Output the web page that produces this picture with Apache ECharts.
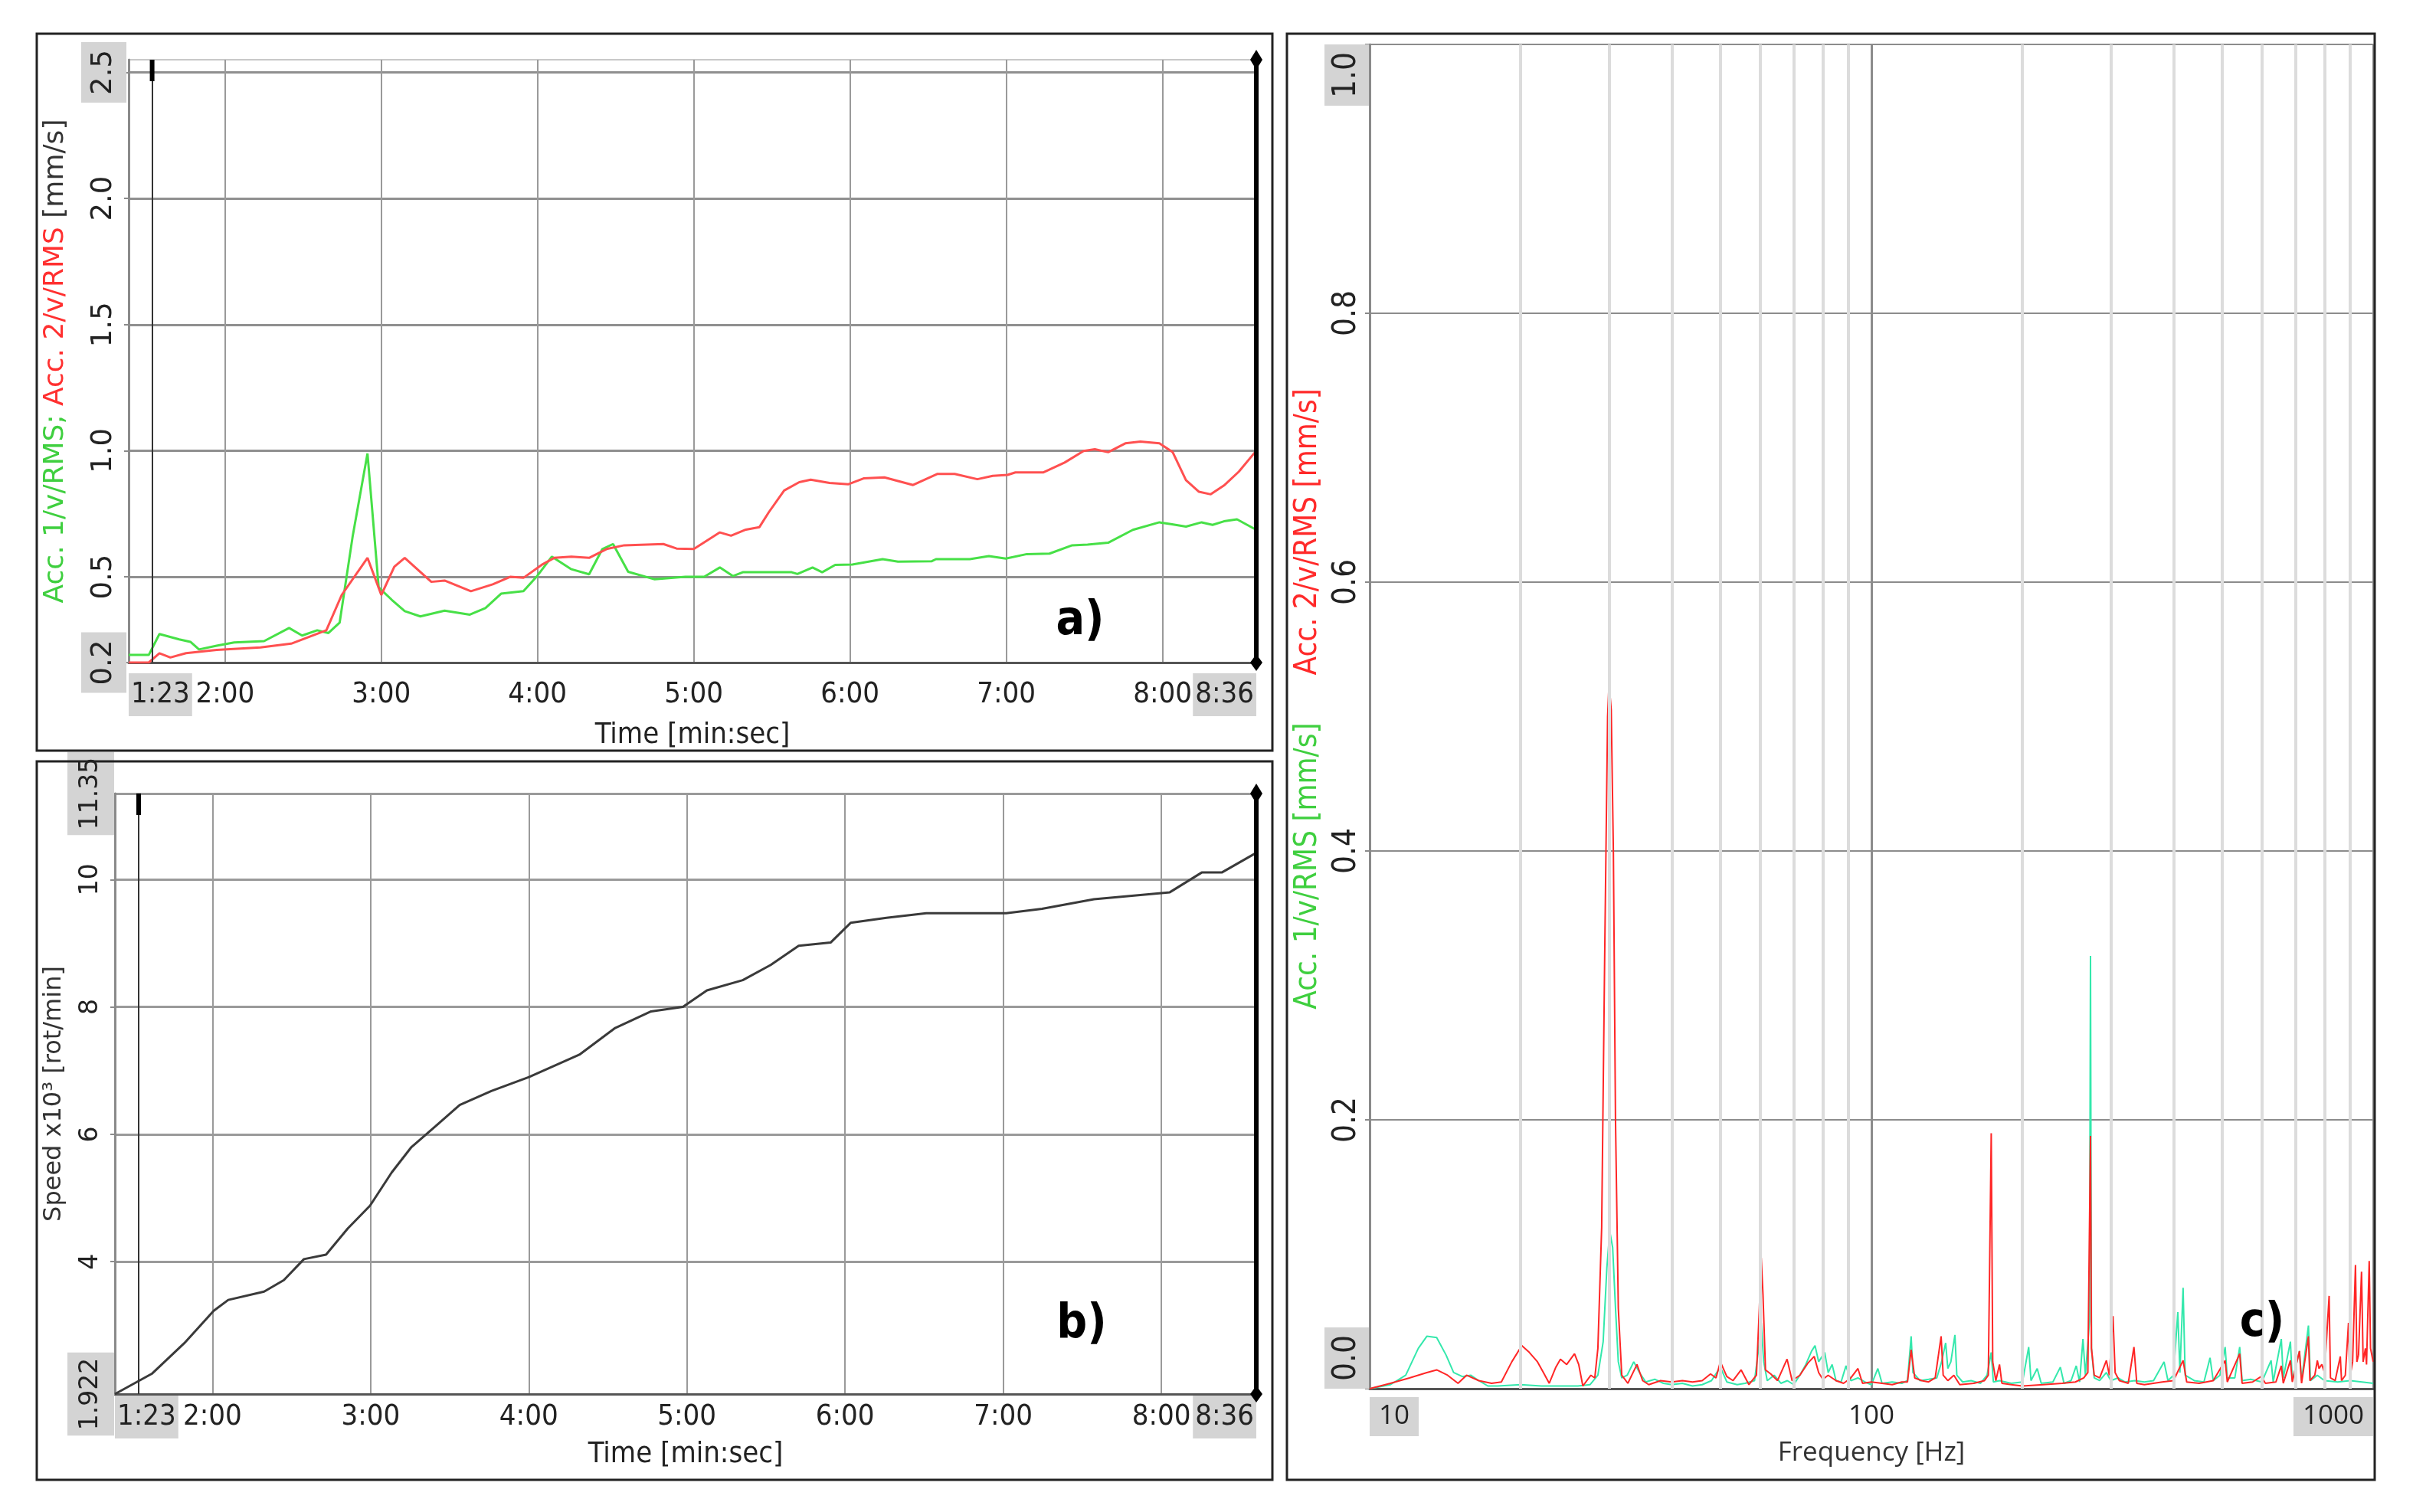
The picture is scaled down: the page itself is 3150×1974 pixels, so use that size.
<!DOCTYPE html>
<html>
<head>
<meta charset="utf-8">
<title>Acc RMS / Speed / Spectrum</title>
<script src="https://cdn.jsdelivr.net/npm/echarts@6/dist/echarts.min.js"></script>
<style>
  html, body { margin: 0; padding: 0; background: #fff; }
  #chart { width: 3150px; height: 1974px; }
</style>
</head>
<body>
<div id="chart"></div>
<script>
// time axis (seconds) for panels a) and b)
var tMin = 83, tMax = 516;
var timeTicks = [83, 120, 180, 240, 300, 360, 420, 480, 516];
var cursorTimes = [92, 516];

// a) RMS velocity [mm/s] vs time [s]
var accMin = 0.16, accMax = 2.55;
var accTicks = [0.16, 0.5, 1.0, 1.5, 2.0, 2.5];
var acc1Rms = [[83,0.19],[90.7,0.19],[94.8,0.273],[102.4,0.252],[106.7,0.242],[110,0.212],[116.8,0.227],[123.5,0.24],[135,0.245],[144.6,0.297],[149.6,0.267],[155.4,0.288],[159.7,0.277],[164,0.318],[169,0.66],[174.7,0.989],[179,0.458],[184,0.409],[189,0.364],[195,0.343],[204.3,0.366],[214,0.35],[220,0.376],[226,0.433],[234.6,0.443],[239.6,0.5],[245.5,0.58],[253,0.53],[259.8,0.51],[264.9,0.61],[269,0.63],[274.8,0.52],[285,0.49],[296.8,0.5],[304,0.5],[310,0.537],[315,0.503],[318.8,0.518],[337.6,0.518],[339.8,0.511],[345.6,0.537],[349.3,0.518],[354.3,0.547],[360.9,0.549],[372.5,0.57],[378.4,0.56],[391.4,0.562],[393,0.57],[406,0.57],[413.3,0.582],[419.8,0.572],[427.9,0.59],[436.6,0.592],[445.3,0.625],[451.2,0.628],[459.1,0.635],[468.6,0.686],[478.8,0.716],[483.2,0.709],[489,0.699],[495,0.716],[499.2,0.706],[503.6,0.72],[508.6,0.728],[516,0.686]];
var acc2Rms = [[83,0.16],[90.7,0.16],[94.8,0.197],[99,0.18],[105,0.197],[116.8,0.21],[133.6,0.22],[145.4,0.235],[158.9,0.288],[164.8,0.428],[174.7,0.575],[180,0.428],[185,0.54],[189,0.575],[199.2,0.48],[204.3,0.485],[214.4,0.443],[222.8,0.47],[229.5,0.5],[234.6,0.496],[242,0.55],[246.4,0.575],[253,0.58],[259.8,0.575],[266.5,0.61],[273.3,0.625],[288.3,0.63],[293.4,0.612],[300,0.61],[310,0.676],[314.3,0.663],[320,0.687],[325.2,0.697],[328.8,0.756],[334.7,0.842],[340.5,0.875],[344.9,0.885],[352.1,0.872],[359.4,0.867],[365.2,0.89],[373.2,0.894],[384.2,0.864],[393.6,0.908],[400.2,0.908],[408.9,0.887],[414.8,0.9],[420.5,0.904],[423.5,0.914],[434.3,0.914],[442.4,0.953],[449.7,0.999],[454,1.006],[459.1,0.994],[465.7,1.029],[471.5,1.036],[478.8,1.029],[483.9,0.994],[489,0.883],[494,0.837],[498.5,0.827],[503.6,0.862],[509.3,0.917],[516,1.0]];

// b) speed x10^3 [rot/min] vs time [s]
var speedMin = 1.922, speedMax = 11.35;
var speedTicks = [1.922, 4, 6, 8, 10, 11.35];
var speed = [[83,1.922],[97,2.24],[109.3,2.72],[120.5,3.23],[126,3.4],[139.6,3.53],[147.1,3.71],[154.7,4.04],[163.1,4.11],[171.3,4.52],[179.8,4.88],[188,5.4],[195.5,5.8],[204.7,6.13],[213.8,6.46],[225.8,6.68],[240.1,6.9],[259.2,7.25],[272.8,7.67],[286.4,7.93],[298.5,8.0],[307.6,8.26],[321.2,8.42],[331.8,8.66],[342.4,8.96],[354.5,9.01],[362.1,9.32],[375.7,9.4],[390.8,9.47],[421.1,9.47],[434.7,9.54],[454.4,9.69],[483.2,9.8],[495.3,10.11],[502.9,10.11],[516,10.42]];

// c) spectrum [mm/s] vs frequency [Hz]
var freqMin = 10, freqMax = 1000;
var minorFreqs = [20, 30, 40, 50, 60, 70, 80, 90, 200, 300, 400, 500, 600, 700, 800, 900];
var acc1Spec = [[10,0],[11,0.003],[11.8,0.01],[12.5,0.03],[13,0.039],[13.6,0.038],[14.2,0.025],[14.7,0.012],[15.3,0.009],[15.9,0.01],[16.5,0.006],[17.2,0.002],[18,0.002],[20,0.003],[22,0.002],[24,0.002],[26,0.002],[27.5,0.003],[28.5,0.01],[29.2,0.035],[29.7,0.09],[30.1,0.117],[30.5,0.105],[30.9,0.06],[31.3,0.02],[31.8,0.008],[32.6,0.01],[33.6,0.02],[34.5,0.012],[35.5,0.005],[37,0.007],[38.5,0.004],[40,0.003],[42,0.004],[44,0.002],[46,0.003],[48,0.006],[50,0.016],[51.5,0.005],[54,0.003],[56,0.004],[58.5,0.006],[59.6,0.03],[60.3,0.049],[61,0.02],[62,0.006],[64,0.01],[66,0.004],[68,0.006],[70,0.003],[72,0.01],[74,0.018],[76,0.028],[77.2,0.032],[78.5,0.02],[80.7,0.027],[82,0.012],[83.5,0.018],[85,0.006],[87,0.005],[89,0.017],[91,0.006],[94,0.008],[97,0.005],[100,0.003],[103,0.015],[105,0.004],[110,0.005],[115,0.004],[118,0.006],[120,0.039],[121,0.012],[125,0.006],[130,0.007],[135,0.008],[138,0.02],[140.6,0.034],[142,0.015],[144,0.02],[146.7,0.04],[148,0.01],[152,0.005],[158,0.006],[165,0.004],[170,0.01],[173.3,0.027],[175,0.005],[180,0.006],[190,0.004],[200,0.005],[205.8,0.031],[208,0.006],[214,0.015],[218,0.004],[230,0.005],[238,0.016],[242,0.004],[250,0.006],[256,0.017],[260,0.005],[264,0.037],[267,0.01],[272,0.05],[273.3,0.322],[274.5,0.03],[278,0.008],[285,0.006],[294,0.012],[300,0.006],[310,0.008],[320,0.005],[335,0.006],[350,0.005],[365,0.006],[383,0.02],[390,0.006],[400,0.01],[408,0.057],[412,0.012],[418,0.075],[422,0.01],[440,0.006],[460,0.005],[473,0.023],[480,0.006],[495,0.01],[507,0.031],[512,0.008],[530,0.008],[542,0.031],[548,0.006],[570,0.007],[600,0.005],[626,0.021],[632,0.005],[656,0.037],[662,0.008],[684,0.035],[690,0.006],[713,0.028],[720,0.006],[743,0.047],[750,0.006],[774,0.01],[800,0.006],[850,0.005],[900,0.006],[950,0.005],[1000,0.004]];
var acc2Spec = [[10,0],[11,0.004],[12,0.008],[13,0.012],[13.6,0.014],[14.3,0.01],[15,0.004],[15.6,0.01],[16.5,0.006],[17.5,0.004],[18.3,0.005],[19.2,0.02],[20.1,0.032],[20.8,0.027],[21.6,0.02],[22.2,0.012],[22.8,0.004],[23.5,0.016],[24,0.022],[24.7,0.018],[25.6,0.026],[26.1,0.018],[26.6,0.002],[27.6,0.01],[28.1,0.008],[28.5,0.03],[29,0.12],[29.4,0.32],[29.8,0.5],[30,0.525],[30.3,0.505],[30.6,0.4],[30.9,0.2],[31.3,0.06],[31.8,0.01],[32.7,0.004],[34.1,0.018],[35,0.006],[36,0.003],[38,0.006],[40,0.005],[42,0.006],[44,0.005],[46,0.006],[47.8,0.011],[49,0.008],[50,0.02],[51.5,0.009],[53,0.006],[55,0.014],[57,0.003],[59,0.01],[59.8,0.06],[60.3,0.0976],[60.8,0.07],[61.5,0.014],[63,0.011],[65,0.006],[67.9,0.022],[69.5,0.006],[72,0.01],[74.7,0.019],[76.9,0.024],[78.5,0.012],[80,0.007],[82,0.01],[85,0.006],[88,0.004],[91,0.008],[94,0.015],[96,0.004],[100,0.005],[105,0.004],[110,0.003],[115,0.005],[118,0.005],[120,0.029],[122,0.008],[126,0.006],[130,0.005],[134,0.008],[137.7,0.039],[139,0.01],[142,0.006],[146,0.01],[150,0.003],[160,0.004],[168,0.006],[171,0.01],[173.3,0.19],[174.5,0.02],[177,0.006],[180,0.018],[182,0.004],[190,0.003],[200,0.002],[220,0.003],[240,0.004],[255,0.005],[265,0.008],[270,0.012],[273.3,0.188],[274.5,0.03],[278,0.01],[285,0.008],[294,0.021],[298,0.01],[303,0.054],[306,0.012],[312,0.006],[325,0.004],[333.6,0.031],[338,0.004],[350,0.003],[380,0.005],[400,0.006],[418,0.021],[425,0.005],[450,0.004],[480,0.006],[507,0.021],[512,0.005],[542,0.026],[548,0.004],[575,0.005],[598,0.009],[610,0.004],[640,0.005],[656,0.017],[662,0.004],[684,0.021],[690,0.005],[713,0.028],[720,0.004],[743,0.039],[748,0.006],[765,0.01],[774,0.021],[780,0.015],[790,0.018],[800,0.012],[817,0.069],[822,0.008],[840,0.006],[860,0.024],[865,0.006],[880,0.01],[893,0.049],[898,0.008],[910,0.02],[922,0.092],[928,0.02],[935,0.025],[948,0.087],[951,0.059],[955,0.02],[965,0.03],[970,0.018],[982,0.095],[988,0.03],[1000,0.02]];

var NARROW = '"Liberation Sans Narrow", "DejaVu Sans Condensed", sans-serif';
var GREY_BOX = '#d4d4d4';

function mmss(v) {
	var m = Math.floor(v / 60), s = Math.round(v - m * 60);
	return m + ':' + (s < 10 ? '0' : '') + s;
}
function labelRich(font, size, pad, hiPad) {
	return {
		n: { fontFamily: font, fontSize: size, color: '#222', padding: pad },
		hi: { fontFamily: font, fontSize: size, color: '#222', padding: hiPad || pad, backgroundColor: GREY_BOX }
	};
}
function edgeFmt(lo, hi, fmt) {
	return function (v) {
		var t = fmt(v);
		return (Math.abs(v - lo) < 1e-9 || Math.abs(v - hi) < 1e-9) ? '{hi|' + t + '}' : '{n|' + t + '}';
	};
}
function timeAxis(gridIndex, margin, nameGap) {
	return {
		type: 'value', gridIndex: gridIndex, min: tMin, max: tMax,
		name: 'Time [min:sec]', nameLocation: 'middle', nameGap: nameGap,
		nameTextStyle: { fontFamily: NARROW, fontSize: 38, color: '#222' },
		axisLine: { show: true, lineStyle: { color: '#555', width: 3 } },
		axisTick: { show: false, customValues: timeTicks },
		axisLabel: {
			customValues: timeTicks, margin: margin, showMinLabel: true, showMaxLabel: true, hideOverlap: false,
			alignMinLabel: 'left', alignMaxLabel: 'right',
			formatter: edgeFmt(tMin, tMax, mmss), rich: labelRich(NARROW, 38, [9, 0], [9, 3])
		},
		splitLine: { show: true, lineStyle: { color: '#9a9a9a', width: 2 } }
	};
}
// cursor lines and their end markers, placed through the axes
function cursorLines() {
	return {
		silent: true, animation: false, label: { show: false }, symbol: 'none',
		data: [
			{ xAxis: cursorTimes[0], lineStyle: { color: '#333', width: 2, type: 'solid' } },
			{ xAxis: cursorTimes[1], lineStyle: { color: '#000', width: 6, type: 'solid' } }
		]
	};
}
function cursorMarks(yLo, yHi) {
	return {
		silent: true, animation: false, label: { show: false },
		itemStyle: { color: '#000' },
		data: [
			{ coord: [cursorTimes[0], yHi], symbol: 'rect', symbolSize: [6, 28], symbolOffset: [0, 14] },
			{ coord: [cursorTimes[1], yHi], symbol: 'diamond', symbolSize: [16, 26] },
			{ coord: [cursorTimes[1], yLo], symbol: 'diamond', symbolSize: [16, 22] }
		]
	};
}

var chart = echarts.init(document.getElementById('chart'), null, { renderer: 'canvas' });
chart.setOption({
	backgroundColor: '#fff',
	animation: false,
	grid: [
		{ left: 168, top: 78, width: 1472, height: 787, show: true, borderColor: '#c8c8c8', borderWidth: 2, containLabel: false, outerBoundsMode: 'none' },
		{ left: 150, top: 1036, width: 1490, height: 784, show: true, borderColor: '#c8c8c8', borderWidth: 2, containLabel: false, outerBoundsMode: 'none' },
		{ left: 1788, top: 58, width: 1310, height: 1755, show: true, borderColor: '#c8c8c8', borderWidth: 2, containLabel: false, outerBoundsMode: 'none' }
	],
	xAxis: [
		timeAxis(0, 14, 76),
		timeAxis(1, 2, 60),
		{
			type: 'log', logBase: 10, gridIndex: 2, min: freqMin, max: freqMax,
			name: 'Frequency [Hz]', nameLocation: 'middle', nameGap: 64,
			nameTextStyle: { fontFamily: 'Open Sans', fontSize: 35, color: '#333' },
			axisLine: { show: true, lineStyle: { color: '#555', width: 3 } },
			axisTick: { show: false },
			axisLabel: {
				margin: 11, showMinLabel: true, showMaxLabel: true, hideOverlap: false,
				alignMinLabel: 'left', alignMaxLabel: 'right',
				formatter: edgeFmt(freqMin, freqMax, function (v) { return String(Math.round(v)); }),
				rich: labelRich('Open Sans', 35, [8, 12])
			},
			splitLine: { show: true, lineStyle: { color: '#8c8c8c', width: 3 } },
			minorSplitLine: { show: false }
		}
	],
	yAxis: [
		{
			type: 'value', gridIndex: 0, min: accMin, max: accMax,
			name: '{g|Acc. 1/v/RMS;} {r|Acc. 2/v/RMS} {k|[mm/s]}', nameLocation: 'middle', nameGap: 77, nameRotate: 90,
			nameTextStyle: {
				fontFamily: 'DejaVu Sans', fontSize: 36,
				rich: {
					g: { fontFamily: 'DejaVu Sans', fontSize: 36, color: '#3fcf3f' },
					r: { fontFamily: 'DejaVu Sans', fontSize: 36, color: '#ff3030' },
					k: { fontFamily: 'DejaVu Sans', fontSize: 36, color: '#333' }
				}
			},
			axisLine: { show: true, lineStyle: { color: '#8a8a8a', width: 3 } },
			axisTick: { show: true, length: 6, customValues: accTicks, lineStyle: { color: '#8a8a8a', width: 2 } },
			axisLabel: {
				customValues: accTicks, rotate: 90, margin: 3, showMinLabel: true, showMaxLabel: true, hideOverlap: false,
				formatter: edgeFmt(accTicks[0], accTicks[accTicks.length - 1], function (v) { return v.toFixed(1); }),
				rich: labelRich('DejaVu Sans', 37, [11, 10])
			},
			splitLine: { show: true, lineStyle: { color: '#8f8f8f', width: 3 } }
		},
		{
			type: 'value', gridIndex: 1, min: speedMin, max: speedMax,
			name: 'Speed x10³ [rot/min]', nameLocation: 'middle', nameGap: 57, nameRotate: 90,
			nameTextStyle: { fontFamily: 'DejaVu Sans', fontSize: 32, color: '#333' },
			axisLine: { show: true, lineStyle: { color: '#8a8a8a', width: 3 } },
			axisTick: { show: true, length: 6, customValues: speedTicks, lineStyle: { color: '#8a8a8a', width: 2 } },
			axisLabel: {
				customValues: speedTicks, rotate: 90, margin: 1, showMinLabel: true, showMaxLabel: true, hideOverlap: false,
				formatter: edgeFmt(speedMin, speedMax, function (v) { return String(v); }),
				rich: labelRich('DejaVu Sans', 33, [14, 7])
			},
			splitLine: { show: true, lineStyle: { color: '#9a9a9a', width: 3 } }
		},
		{
			type: 'value', gridIndex: 2, min: 0, max: 1, interval: 0.2,
			name: '{sp0| }{g|Acc. 1/v/RMS [mm/s]}{sp| }{r|Acc. 2/v/RMS [mm/s]}', nameLocation: 'middle', nameGap: 60, nameRotate: 90,
			nameTextStyle: {
				fontFamily: NARROW, fontSize: 40,
				rich: {
					sp0: { width: 46, fontSize: 40 },
					sp: { width: 62, fontSize: 40 },
					g: { fontFamily: NARROW, fontSize: 40, color: '#3fcf3f' },
					r: { fontFamily: NARROW, fontSize: 40, color: '#ff2a2a' }
				}
			},
			axisLine: { show: true, lineStyle: { color: '#8a8a8a', width: 3 } },
			axisTick: { show: true, length: 6, lineStyle: { color: '#8a8a8a', width: 2 } },
			axisLabel: {
				rotate: 90, margin: 1, showMinLabel: true, showMaxLabel: true, hideOverlap: false,
				alignMinLabel: 'left', alignMaxLabel: 'right',
				formatter: edgeFmt(0, 1, function (v) { return v.toFixed(1); }),
				rich: labelRich(NARROW, 42, [8, 10])
			},
			splitLine: { show: true, lineStyle: { color: '#8c8c8c', width: 2 } }
		}
	],
	series: [
		{
			name: 'Acc. 1/v/RMS', type: 'line', xAxisIndex: 0, yAxisIndex: 0, data: acc1Rms, clip: false,
			symbol: 'none', lineStyle: { color: '#47e047', width: 3 }, z: 3,
			markLine: cursorLines(), markPoint: cursorMarks(accMin, accMax)
		},
		{
			name: 'Acc. 2/v/RMS', type: 'line', xAxisIndex: 0, yAxisIndex: 0, data: acc2Rms,
			symbol: 'none', lineStyle: { color: '#ff5050', width: 3 }, z: 3
		},
		{
			name: 'Speed', type: 'line', xAxisIndex: 1, yAxisIndex: 1, data: speed, clip: false,
			symbol: 'none', lineStyle: { color: '#3a3a3a', width: 3 }, z: 3,
			markLine: cursorLines(), markPoint: cursorMarks(speedMin, speedMax)
		},
		{
			name: 'minor grid', type: 'line', xAxisIndex: 2, yAxisIndex: 2, data: [], z: 1, silent: true,
			markLine: {
				silent: true, animation: false, label: { show: false }, symbol: 'none',
				lineStyle: { color: '#dcdcdc', width: 4, type: 'solid' },
				data: minorFreqs.map(function (f) { return { xAxis: f }; })
			}
		},
		{
			name: 'Acc. 1/v/RMS spectrum', type: 'line', xAxisIndex: 2, yAxisIndex: 2, data: acc1Spec,
			symbol: 'none', lineStyle: { color: '#34e8ac', width: 2 }, z: 3
		},
		{
			name: 'Acc. 2/v/RMS spectrum', type: 'line', xAxisIndex: 2, yAxisIndex: 2, data: acc2Spec,
			symbol: 'none', lineStyle: { color: '#ff2626', width: 2 }, z: 4
		}
	],
	graphic: [
		{ type: 'rect', silent: true, z: 100, shape: { x: 48, y: 44, width: 1613, height: 936 }, style: { fill: 'none', stroke: '#222', lineWidth: 3 } },
		{ type: 'rect', silent: true, z: 100, shape: { x: 48, y: 994, width: 1613, height: 938 }, style: { fill: 'none', stroke: '#222', lineWidth: 3 } },
		{ type: 'rect', silent: true, z: 100, shape: { x: 1680, y: 44, width: 1420, height: 1888 }, style: { fill: 'none', stroke: '#222', lineWidth: 3 } },
		{ type: 'text', silent: true, z: 100, x: 1410, y: 812, style: { text: 'a)', font: 'bold 62px ' + NARROW, fill: '#000', align: 'center', verticalAlign: 'middle' } },
		{ type: 'text', silent: true, z: 100, x: 1412, y: 1730, style: { text: 'b)', font: 'bold 62px ' + NARROW, fill: '#000', align: 'center', verticalAlign: 'middle' } },
		{ type: 'text', silent: true, z: 100, x: 2953, y: 1728, style: { text: 'c)', font: 'bold 62px ' + NARROW, fill: '#000', align: 'center', verticalAlign: 'middle' } }
	]
});
</script>
</body>
</html>
